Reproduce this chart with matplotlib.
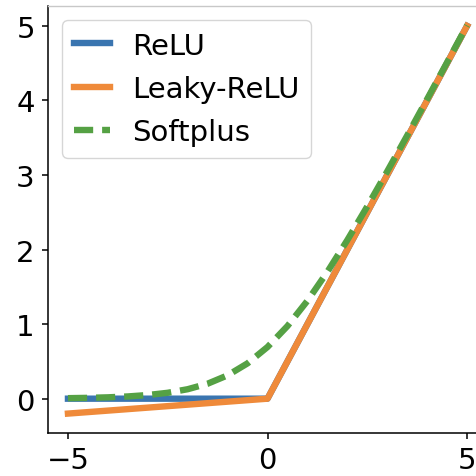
import matplotlib
matplotlib.use("Agg")
import matplotlib.pyplot as plt

# Activation function samples
x_relu = [-5, 0, 5]
y_relu = [0.0, 0.0, 5.0]
x_leaky = [-5, 0, 5]
y_leaky = [-0.2, 0.0, 5.0]
x_soft = [-5.0, -4.5, -4.0, -3.5, -3.0, -2.5, -2.0, -1.5, -1.0, -0.5, 0.0,
          0.5, 1.0, 1.5, 2.0, 2.5, 3.0, 3.5, 4.0, 4.5, 5.0]
y_soft = [0.007, 0.011, 0.018, 0.03, 0.049, 0.079, 0.127, 0.201, 0.313, 0.474, 0.693,
          0.974, 1.313, 1.701, 2.127, 2.579, 3.049, 3.53, 4.018, 4.511, 5.007]
xticks = [-5, 0, 5]
yticks = [0, 1, 2, 3, 4, 5]

fig = plt.figure(figsize=(4.77, 4.77), dpi=100)
ax = fig.add_axes([48 / 477, 1 - 434 / 477, 439 / 477, 427 / 477])

lw = 4.6
ax.plot(x_relu, y_relu, color="#3a75b0", lw=lw, label="ReLU")
ax.plot(x_leaky, y_leaky, color="#ef8a3a", lw=lw, label="Leaky-ReLU")
ax.plot(x_soft, y_soft, color="#55a144", lw=lw, ls=(0, (3.0, 1.4)), label="Softplus")

ax.set_xticks(xticks)
ax.set_yticks(yticks)
ax.tick_params(labelsize=21, length=4.5, width=1.1, pad=5)
for side in ("left", "bottom"):
    ax.spines[side].set_linewidth(1.1)
ax.spines["right"].set_visible(False)
ax.spines["top"].set_color("#c8c8c8")
ax.spines["top"].set_linewidth(1.0)

leg = ax.legend(loc="upper left", fontsize=21, handlelength=1.25,
                handletextpad=0.75, labelspacing=0.52, borderpad=0.4,
                borderaxespad=0.48)

fig.savefig("out.png", dpi=100)
